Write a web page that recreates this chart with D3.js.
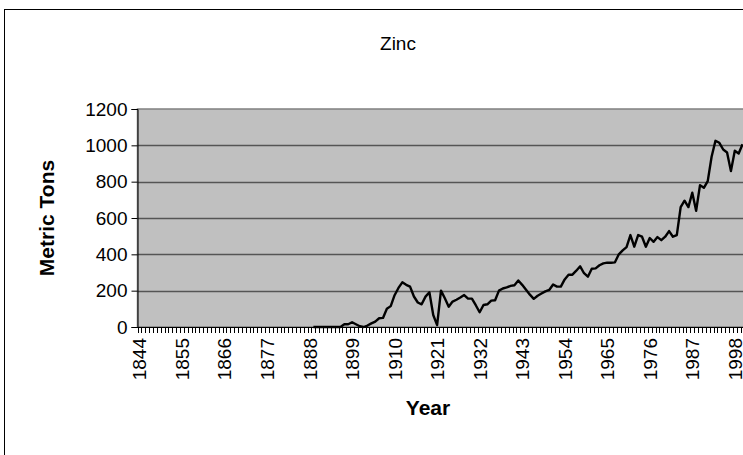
<!DOCTYPE html>
<html>
<head>
<meta charset="utf-8">
<script src="https://cdn.jsdelivr.net/npm/d3@7"></script>
<style>
  body { margin: 0; background: #fff; }
  text { font-family: "Liberation Sans", Arial, sans-serif; fill: #000; }
</style>
</head>
<body>
<svg id="chart" width="743" height="455"></svg>
<script>
// category range of the axis
var firstYear = 1844;
var lastYear = 2000;
// years that carry a value (earlier years are blank)
var dataYears = d3.range(1889, 2001);
var tons = [
  0, 0, 0, 0, 0, 0, 0, 0,                         // 1889-1896
  15, 15, 26, 15, 4, 0, 8, 20, 30, 48,            // 1897-1906
  50, 100, 115, 175, 215, 246, 232, 222, 168, 135, // 1907-1916
  125, 167, 191, 66, 10, 200, 158, 112, 140, 150, // 1917-1926
  162, 176, 156, 156, 120, 81, 121, 125, 145, 147, // 1927-1936
  200, 212, 218, 226, 230, 256, 232, 205, 178, 155, // 1937-1946
  172, 184, 196, 204, 234, 222, 222, 262, 288, 288, // 1947-1956
  310, 334, 296, 277, 321, 323, 340, 350, 354, 354, // 1957-1966
  356, 400, 422, 440, 506, 442, 506, 497, 442, 490, // 1967-1976
  469, 495, 478, 497, 528, 497, 506, 660, 695, 660, // 1977-1986
  739, 640, 781, 766, 803, 937, 1025, 1014, 977, 961, // 1987-1996
  858, 970, 955, 1006                              // 1997-2000
];
var yTicks = [0, 200, 400, 600, 800, 1000, 1200];
var labelYears = [1844, 1855, 1866, 1877, 1888, 1899, 1910, 1921, 1932, 1943, 1954, 1965, 1976, 1987, 1998];

var svg = d3.select("#chart");
var years = d3.range(firstYear, lastYear + 1);
var plotLeft = 137.5, plotTop = 109, plotBottom = 327, step = 3.866;

var x = d3.scaleBand().domain(years).range([plotLeft, plotLeft + years.length * step]).padding(0);
var y = d3.scaleLinear().domain([0, 1200]).range([plotBottom, plotTop]);
var plotRight = plotLeft + years.length * step;

// chart frame
svg.append("rect")
   .attr("x", 4.5).attr("y", 9.5)
   .attr("width", 800).attr("height", 500)
   .attr("fill", "#fff").attr("stroke", "#000");

// plot area
svg.append("rect")
   .attr("x", plotLeft).attr("y", plotTop)
   .attr("width", plotRight - plotLeft).attr("height", plotBottom - plotTop)
   .attr("fill", "#c0c0c0").attr("stroke", "#808080").attr("stroke-width", 1.5);

// gridlines
svg.append("g")
   .selectAll("line")
   .data(yTicks.filter(function(d) { return d > 0 && d < 1200; }))
   .join("line")
   .attr("x1", plotLeft).attr("x2", plotRight)
   .attr("y1", function(d) { return Math.round(y(d)) + 0.5; })
   .attr("y2", function(d) { return Math.round(y(d)) + 0.5; })
   .attr("stroke", "#555").attr("stroke-width", 1.6);

// y axis
var yAxis = d3.axisLeft(y).tickValues(yTicks).tickSize(6).tickPadding(4).tickFormat(d3.format("d"));
svg.append("g")
   .attr("transform", "translate(" + plotLeft + ",0)")
   .call(yAxis)
   .call(function(g) {
     g.select(".domain").attr("stroke", "#000");
     g.selectAll(".tick line").attr("stroke", "#000");
     g.selectAll("text").attr("font-size", 19).attr("font-family", "Liberation Sans, Arial, sans-serif");
   });

// x axis: minor ticks between every category
svg.append("line")
   .attr("x1", plotLeft).attr("x2", plotRight)
   .attr("y1", plotBottom + 0.5).attr("y2", plotBottom + 0.5)
   .attr("stroke", "#000");
svg.append("g")
   .selectAll("line")
   .data(years)
   .join("line")
   .attr("x1", function(d) { return Math.round(x(d)) + 0.5; })
   .attr("x2", function(d) { return Math.round(x(d)) + 0.5; })
   .attr("y1", plotBottom).attr("y2", plotBottom + 6)
   .attr("stroke", "#000");

// x tick labels, rotated
svg.append("g")
   .selectAll("text")
   .data(labelYears)
   .join("text")
   .attr("transform", function(d) {
     return "translate(" + (x(d) + x.bandwidth() / 2 + 7) + "," + (plotBottom + 11) + ") rotate(-90)";
   })
   .attr("text-anchor", "end")
   .attr("font-size", 19)
   .text(function(d) { return d; });

// data line
var series = dataYears.map(function(yr, i) { return { year: yr, value: tons[i] }; });
var line = d3.line()
   .x(function(d) { return x(d.year) + x.bandwidth() / 2; })
   .y(function(d) { return y(d.value); });
svg.append("path")
   .datum(series)
   .attr("d", line)
   .attr("fill", "none")
   .attr("stroke", "#000")
   .attr("stroke-width", 2.4)
   .attr("stroke-linejoin", "round");

// titles
svg.append("text")
   .attr("x", 398).attr("y", 50)
   .attr("text-anchor", "middle")
   .attr("font-size", 19)
   .text("Zinc");

svg.append("text")
   .attr("transform", "translate(54,218) rotate(-90)")
   .attr("text-anchor", "middle")
   .attr("font-size", 21)
   .attr("font-weight", "bold")
   .text("Metric Tons");

svg.append("text")
   .attr("x", 428).attr("y", 415)
   .attr("text-anchor", "middle")
   .attr("font-size", 21)
   .attr("font-weight", "bold")
   .text("Year");
</script>
</body>
</html>
